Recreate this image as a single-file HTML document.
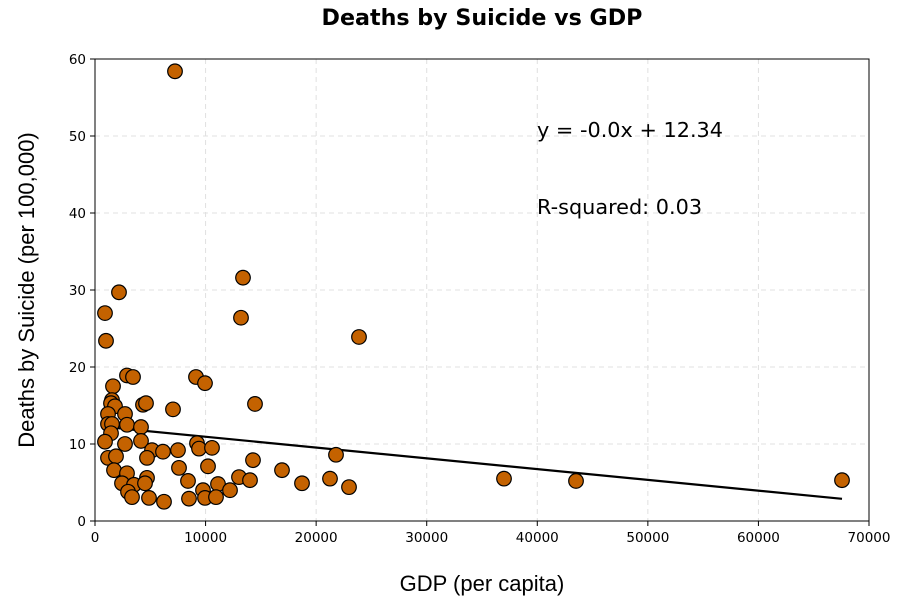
<!DOCTYPE html>
<html><head><meta charset="utf-8"><style>
body{margin:0;background:#fff;}
svg{display:block;font-family:"DejaVu Sans","Liberation Sans",sans-serif;}
</style></head><body>
<svg id="chart" width="914" height="613" viewBox="0 0 914 613" xmlns="http://www.w3.org/2000/svg">
<rect width="914" height="613" fill="#fff"/>
<text x="482" y="25" text-anchor="middle" font-size="22.2" font-weight="bold" font-family="DejaVu Sans, sans-serif">Deaths by Suicide vs GDP</text>
<text x="482" y="591" text-anchor="middle" font-size="22" font-family="Liberation Sans, sans-serif">GDP (per capita)</text>
<text transform="translate(34,290) rotate(-90)" text-anchor="middle" font-size="22" font-family="Liberation Sans, sans-serif">Deaths by Suicide (per 100,000)</text>
<g id="grid"></g><g id="line"></g><g id="points"></g><g id="axes"></g>
<text x="537" y="137" font-size="20.8">y = -0.0x + 12.34</text>
<text x="537" y="214" font-size="20.8">R-squared: 0.03</text>
</svg>
<script>
const gdp=[7235,2170,904,995,2894,3437,1628,9134,9948,13385,13204,23876,1537,1447,1809,4341,4612,7054,14470,1176,2713,1176,1537,2894,4160,1447,904,2713,4160,5155,6150,7506,9225,9406,10581,1176,1899,4703,14289,21796,1718,2894,7597,10220,16912,2442,3527,4703,4522,8411,13023,14018,11124,12209,9768,2985,3346,4884,6240,8501,9948,10943,18721,21253,22972,36990,43502,67559];
const deaths=[58.4,29.7,27.0,23.4,18.9,18.7,17.5,18.7,17.9,31.6,26.4,23.9,15.7,15.3,14.9,15.1,15.3,14.5,15.2,13.9,13.9,12.6,12.6,12.5,12.2,11.4,10.3,10.0,10.4,9.2,9.0,9.2,10.1,9.4,9.5,8.2,8.4,8.2,7.9,8.6,6.6,6.2,6.9,7.1,6.6,4.9,4.7,5.6,4.9,5.2,5.7,5.3,4.8,4.0,4.0,3.8,3.1,3.0,2.5,2.9,3.0,3.1,4.9,5.5,4.4,5.5,5.2,5.3];
const xTicks=[0,10000,20000,30000,40000,50000,60000,70000];
const yTicks=[0,10,20,30,40,50,60];
const fitSlope=-0.00014;
const fitIntercept=12.34;
const X0=95,X1=869,Y0=521,Y1=59;
const sx=v=>X0+(v/70000)*(X1-X0);
const sy=v=>Y0-(v/60)*(Y0-Y1);
const NS="http://www.w3.org/2000/svg";
function mk(tag,attrs,parent){const e=document.createElementNS(NS,tag);for(const k in attrs)e.setAttribute(k,attrs[k]);parent.appendChild(e);return e;}
const grid=document.getElementById('grid'),axes=document.getElementById('axes'),pts=document.getElementById('points'),ln=document.getElementById('line');
xTicks.forEach(t=>{
 const g=mk('line',{x1:sx(t),x2:sx(t),y1:Y1,y2:Y0,stroke:'#e0e0e0','stroke-dasharray':'5,4','stroke-width':1},grid);
 
 
 const tk=mk('line',{x1:sx(t),x2:sx(t),y1:Y0,y2:Y0+5,stroke:'#000'},axes);
 
 
 const tx=mk('text',{x:sx(t),y:Y0+21,'text-anchor':'middle','font-size':13.5},axes);
 tx.textContent=t;
 
 
});
yTicks.forEach(t=>{
 const g=mk('line',{x1:X0,x2:X1,y1:sy(t),y2:sy(t),stroke:'#e0e0e0','stroke-dasharray':'5,4','stroke-width':1},grid);
 
 
 const tk=mk('line',{x1:X0-5,x2:X0,y1:sy(t),y2:sy(t),stroke:'#000'},axes);
 
 
 const tx=mk('text',{x:X0-9,y:sy(t)+5,'text-anchor':'end','font-size':13.5},axes);
 tx.textContent=t;
 
 
});
const frame=mk('rect',{x:X0,y:Y1,width:X1-X0,height:Y0-Y1,fill:'none',stroke:'#000','stroke-width':1},axes);


const xmin=Math.min(...gdp),xmax=Math.max(...gdp);
const rl=mk('line',{x1:sx(xmin),y1:sy(fitSlope*xmin+fitIntercept),x2:sx(xmax),y2:sy(fitSlope*xmax+fitIntercept),stroke:'#000','stroke-width':2.2},ln);


gdp.forEach((g,i)=>{
 const c=mk('circle',{cx:sx(g),cy:sy(deaths[i]),r:7.3,fill:'#c46200',stroke:'#000','stroke-width':1.2},pts);
 
 
});
</script>
</body></html>
